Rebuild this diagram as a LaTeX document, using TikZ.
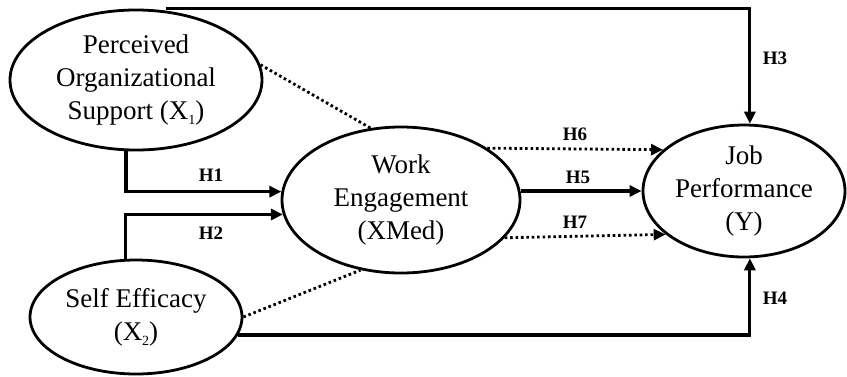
\documentclass[tikz,border=0pt]{standalone}
\usepackage{fontspec}
\setmainfont{Liberation Serif}
\usetikzlibrary{shapes.geometric,arrows.meta}
% small lowered index, as in X_1
\newcommand{\lowidx}[1]{\raisebox{-5pt}{\fontsize{14}{14}\selectfont #1}}
\begin{document}
\begin{tikzpicture}[x=1pt,y=-1pt,
  construct/.style={ellipse,draw,line width=2.8pt,inner sep=0pt,align=center,
    font=\fontsize{27}{33}\selectfont},
  arr/.style={line width=3.2pt,-{Triangle[length=12pt,width=11pt]}},
  dotline/.style={line width=2.8pt,dash pattern=on 2.6pt off 2.8pt},
  dotarr/.style={dotline,-{Triangle[length=12pt,width=11pt]}},
  hyp/.style={font=\bfseries\fontsize{19}{22}\selectfont}]
\useasboundingbox (0,0) rectangle (847,376);

% constructs
\node[construct,minimum width=252pt,minimum height=140pt] (x1) at (136,80)
  {Perceived\\Organizational\\Support (X\lowidx{1})};
\node[construct,minimum width=238pt,minimum height=146pt] (we) at (401,200)
  {Work\\Engagement\\(XMed)};
\node[construct,minimum width=202pt,minimum height=132pt] (jp) at (744,191)
  {Job\\Performance\\(Y)};
\node[construct,minimum width=212pt,minimum height=114pt] (se) at (136,317)
  {Self Efficacy\\(X\lowidx{2})};

% direct paths
\draw[arr] (x1.262) |- (we.176);
\draw[arr] (se.100) |- (we.187);
\draw[arr] (we.east |- jp.west) -- (jp.west);
\draw[arr] ([xshift=30pt]x1.north) -| (jp.85);
\draw[arr] (se.-10) -| (jp.-85);

% mediated paths
\draw[dotline] (x1.7) -- (we.113);
\draw[dotline] (se.east) -- (we.240);
\draw[dotarr] (we.31) -- (jp.153);
\draw[dotarr] (we.-20) -- (jp.209);

% hypothesis labels
\node[hyp] (h1) at (211,175) {H1};
\node[hyp] (h2) at (211,233) {H2};
\node[hyp] (h3) at (775,58) {H3};
\node[hyp] (h4) at (775,298) {H4};
\node[hyp] (h5) at (578,177) {H5};
\node[hyp] (h6) at (575,134) {H6};
\node[hyp] (h7) at (575,222) {H7};
\end{tikzpicture}
\end{document}
